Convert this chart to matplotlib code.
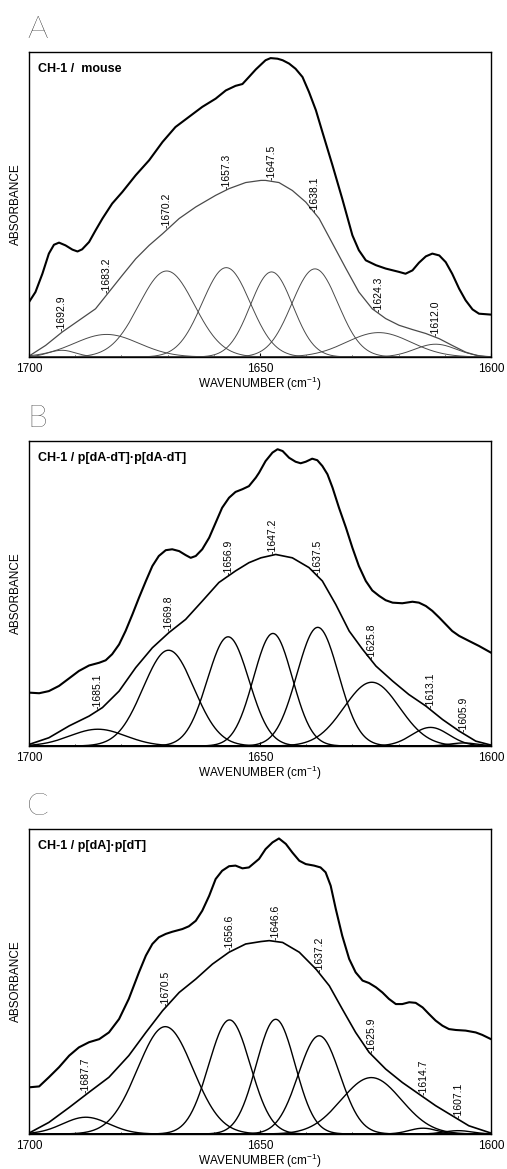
import numpy as np
import matplotlib
matplotlib.use("Agg")
import matplotlib.pyplot as plt

plt.rcParams["font.family"] = ["Liberation Sans", "DejaVu Sans"]
plt.rcParams["mathtext.fontset"] = "custom"
plt.rcParams["mathtext.rm"] = "Liberation Sans"

# ---- panel A : CH-1 / mouse ----
A_spec_wn = [1700, 1698.6, 1697.1, 1695.7, 1694.6, 1693.5, 1692.1, 1690.6, 1689.5, 1688.5,
             1687.0, 1685.6, 1684.1, 1682.0, 1679.8, 1676.9, 1674.0, 1671.1, 1668.3, 1665.4,
             1662.5, 1659.6, 1657.4, 1655.3, 1653.8, 1652.4, 1650.9, 1648.8, 1647.7, 1646.2,
             1645.1, 1643.7, 1642.3, 1640.8, 1639.4, 1637.9, 1636.5, 1634.3, 1632.2, 1630.0,
             1628.6, 1627.1, 1624.9, 1622.8, 1619.9, 1618.5, 1617.0, 1615.6, 1614.1, 1612.7,
             1611.2, 1609.8, 1608.4, 1606.9, 1605.5, 1604.0, 1602.6, 1600]
A_spec_abs = [0.180, 0.213, 0.273, 0.339, 0.368, 0.375, 0.366, 0.352, 0.346, 0.353,
              0.377, 0.415, 0.454, 0.503, 0.541, 0.596, 0.645, 0.705, 0.754, 0.787,
              0.820, 0.847, 0.874, 0.889, 0.895, 0.918, 0.943, 0.973, 0.980, 0.978,
              0.973, 0.962, 0.945, 0.918, 0.869, 0.809, 0.738, 0.628, 0.519, 0.399,
              0.350, 0.317, 0.301, 0.290, 0.279, 0.273, 0.284, 0.309, 0.330, 0.339,
              0.333, 0.311, 0.273, 0.224, 0.186, 0.156, 0.142, 0.139]
A_fit_wn = [1700, 1696.4, 1692.8, 1689.2, 1685.6, 1682.7, 1679.8, 1676.9, 1674.0, 1671.1,
            1667.5, 1663.9, 1659.6, 1656.7, 1653.1, 1649.8, 1648.8, 1645.9, 1643.0, 1640.1,
            1637.2, 1634.3, 1631.4, 1628.6, 1625.7, 1622.8, 1619.9, 1617.0, 1614.1, 1611.2,
            1608.4, 1605.5, 1602.6, 1600]
A_fit_abs = [0.003, 0.038, 0.082, 0.120, 0.158, 0.213, 0.268, 0.322, 0.366, 0.404,
             0.454, 0.492, 0.530, 0.552, 0.572, 0.579, 0.579, 0.572, 0.546, 0.508,
             0.454, 0.372, 0.290, 0.213, 0.158, 0.126, 0.104, 0.090, 0.077, 0.060,
             0.038, 0.016, 0.003, 0.0]
A_centres = [1692.9, 1683.2, 1670.2, 1657.3, 1647.5, 1638.1, 1624.3, 1612.0]
A_heights = [0.022, 0.074, 0.282, 0.293, 0.279, 0.289, 0.080, 0.042]
A_widths = [3.0, 7.0, 6.0, 5.2, 4.6, 5.0, 7.0, 4.5]

# ---- panel B : CH-1 / p[dA-dT].p[dA-dT] ----
B_spec_wn = [1700, 1697.8, 1695.7, 1693.5, 1691.3, 1689.2, 1687.0, 1684.8, 1683.4, 1682.0,
             1680.5, 1679.1, 1677.6, 1676.2, 1674.7, 1673.3, 1671.9, 1670.4, 1669.0, 1667.5,
             1666.1, 1665.0, 1663.9, 1662.5, 1661.0, 1659.6, 1658.2, 1656.7, 1655.3, 1653.8,
             1652.4, 1650.9, 1650.2, 1648.8, 1647.3, 1646.2, 1645.1, 1643.7, 1642.3, 1641.2,
             1640.1, 1638.7, 1637.6, 1636.5, 1635.4, 1634.3, 1632.9, 1631.4, 1630.0, 1628.6,
             1627.1, 1625.7, 1624.2, 1622.8, 1621.3, 1619.2, 1617.0, 1615.6, 1614.1, 1612.7,
             1611.2, 1609.8, 1608.4, 1606.9, 1604.7, 1602.6, 1600]
B_spec_abs = [0.175, 0.173, 0.180, 0.197, 0.222, 0.246, 0.264, 0.273, 0.281, 0.301,
              0.333, 0.377, 0.432, 0.486, 0.541, 0.590, 0.623, 0.642, 0.645, 0.639,
              0.626, 0.617, 0.623, 0.645, 0.683, 0.732, 0.781, 0.814, 0.833, 0.842,
              0.852, 0.880, 0.896, 0.934, 0.962, 0.973, 0.967, 0.945, 0.932, 0.927,
              0.932, 0.942, 0.937, 0.918, 0.891, 0.847, 0.781, 0.716, 0.650, 0.590,
              0.541, 0.510, 0.492, 0.478, 0.470, 0.468, 0.473, 0.470, 0.459, 0.443,
              0.421, 0.399, 0.377, 0.361, 0.344, 0.328, 0.306]
B_fit_wn = [1700, 1695.7, 1691.3, 1687.0, 1684.1, 1680.5, 1676.9, 1673.3, 1669.7, 1666.1,
            1662.5, 1658.9, 1655.3, 1652.4, 1649.8, 1646.6, 1643.0, 1639.4, 1636.5, 1633.6,
            1630.7, 1627.8, 1624.9, 1621.3, 1617.8, 1614.1, 1610.5, 1606.9, 1603.3, 1600]
B_fit_abs = [0.005, 0.027, 0.066, 0.098, 0.126, 0.180, 0.257, 0.322, 0.372, 0.415,
             0.475, 0.536, 0.574, 0.601, 0.617, 0.628, 0.617, 0.585, 0.541, 0.464,
             0.377, 0.317, 0.262, 0.213, 0.169, 0.131, 0.087, 0.049, 0.016, 0.003]
B_centres = [1685.1, 1669.8, 1656.9, 1647.2, 1637.5, 1625.8, 1613.1, 1605.9]
B_heights = [0.055, 0.314, 0.358, 0.369, 0.389, 0.209, 0.061, 0.010]
B_widths = [6.0, 5.5, 4.5, 4.2, 4.5, 6.0, 4.0, 3.0]

# ---- panel C : CH-1 / p[dA].p[dT] ----
C_spec_wn = [1700, 1697.8, 1695.7, 1693.5, 1691.3, 1689.2, 1687.0, 1684.8, 1682.7, 1680.5,
             1678.4, 1676.2, 1674.7, 1673.3, 1671.9, 1670.4, 1669.0, 1666.8, 1665.4, 1663.9,
             1662.5, 1661.0, 1659.6, 1658.2, 1656.7, 1655.3, 1653.8, 1652.4, 1650.9, 1650.2,
             1648.8, 1647.3, 1645.9, 1644.4, 1643.0, 1641.5, 1640.1, 1638.3, 1636.9, 1635.8,
             1634.7, 1633.6, 1632.2, 1630.7, 1629.3, 1627.8, 1626.4, 1624.9, 1623.5, 1622.1,
             1620.6, 1619.2, 1617.7, 1616.3, 1614.8, 1613.4, 1612.0, 1610.5, 1609.1, 1607.6,
             1605.5, 1603.3, 1601.9, 1600]
C_spec_abs = [0.153, 0.156, 0.186, 0.219, 0.257, 0.284, 0.301, 0.311, 0.333, 0.377,
              0.443, 0.530, 0.585, 0.623, 0.645, 0.656, 0.663, 0.672, 0.681, 0.699,
              0.732, 0.781, 0.836, 0.863, 0.878, 0.880, 0.871, 0.874, 0.893, 0.902,
              0.934, 0.956, 0.969, 0.951, 0.923, 0.896, 0.885, 0.880, 0.874, 0.858,
              0.814, 0.738, 0.650, 0.574, 0.530, 0.503, 0.495, 0.481, 0.464, 0.443,
              0.426, 0.426, 0.432, 0.430, 0.415, 0.393, 0.372, 0.355, 0.344, 0.341,
              0.339, 0.333, 0.325, 0.311]
C_fit_wn = [1700, 1695.7, 1691.3, 1687.0, 1682.7, 1678.4, 1674.7, 1671.1, 1667.5, 1663.9,
            1660.3, 1656.7, 1653.1, 1649.8, 1648.0, 1645.1, 1641.5, 1637.9, 1635.0, 1632.2,
            1629.3, 1626.4, 1622.8, 1619.2, 1615.6, 1612.0, 1608.4, 1604.8, 1600]
C_fit_abs = [0.003, 0.038, 0.087, 0.137, 0.186, 0.257, 0.333, 0.404, 0.464, 0.508,
             0.557, 0.596, 0.623, 0.631, 0.634, 0.628, 0.596, 0.541, 0.486, 0.410,
             0.333, 0.268, 0.213, 0.169, 0.131, 0.093, 0.060, 0.027, 0.003]
C_centres = [1687.7, 1670.5, 1656.6, 1646.6, 1637.2, 1625.9, 1614.7, 1607.1]
C_heights = [0.055, 0.352, 0.374, 0.376, 0.322, 0.185, 0.019, 0.011]
C_widths = [5.0, 6.0, 4.5, 4.2, 4.5, 6.5, 3.0, 3.0]

panels = [
    ("A", "CH-1 /  mouse", A_spec_wn, A_spec_abs, A_fit_wn, A_fit_abs,
     A_centres, A_heights, A_widths, "#4a4a4a", 0.7),
    ("B", "CH-1 / p[dA-dT]\u00b7p[dA-dT]", B_spec_wn, B_spec_abs, B_fit_wn, B_fit_abs,
     B_centres, B_heights, B_widths, "black", 1.0),
    ("C", "CH-1 / p[dA]\u00b7p[dT]", C_spec_wn, C_spec_abs, C_fit_wn, C_fit_abs,
     C_centres, C_heights, C_widths, "black", 1.0),
]

W, H = 507, 1169
fig = plt.figure(figsize=(W / 100, H / 100), dpi=100)
ax_tops = [52, 441, 829]
ax_h = 305
wn = np.linspace(1600, 1700, 600)

for (letter, title, s_wn, s_ab, f_wn, f_ab, cen, hgt, wid, ccol, clw), top in zip(panels, ax_tops):
    ax = fig.add_axes([29 / W, 1 - (top + ax_h) / H, 462 / W, ax_h / H])
    # fitted component bands
    for c, h, w in zip(cen, hgt, wid):
        ax.plot(wn, h * np.exp(-((wn - c) ** 2) / (2 * w ** 2)), color=ccol, lw=clw)
    # sum of components and measured spectrum
    ax.plot(f_wn, f_ab, color=ccol, lw=clw + 0.2, solid_joinstyle="round")
    ax.plot(s_wn, s_ab, color="black", lw=1.5, solid_joinstyle="round")
    # band labels
    fw = np.array(f_wn)[::-1]
    fa = np.array(f_ab)[::-1]
    for c in cen:
        yy = np.interp(c, fw, fa)
        ax.text(c, yy + 0.005, f"-{c:.1f}", rotation=90, ha="center", va="bottom",
                fontsize=7.5)
    ax.set_xlim(1700, 1600)
    ax.set_ylim(0, 1)
    ax.set_xticks([1700, 1650, 1600])
    ax.set_xticks(np.arange(1600, 1701, 10), minor=True)
    ax.set_yticks([])
    ax.tick_params(axis="x", which="major", direction="in", length=3, labelsize=8.5, pad=4)
    ax.tick_params(axis="x", which="minor", direction="in", length=1.5)
    ax.set_xlabel(r"WAVENUMBER (cm$^{-1}$)", fontsize=8.5, labelpad=0)
    ax.set_ylabel("ABSORBANCE", fontsize=8.5, labelpad=5)
    for sp in ax.spines.values():
        sp.set_linewidth(1.0)
    ax.text(0.019, 0.944, title, transform=ax.transAxes, fontsize=9, fontweight="bold",
            va="center", ha="left")
    fig.text(27 / W, 1 - (top - 14) / H, letter, fontsize=23,
             family=["Lato", "DejaVu Sans"], fontweight="light", va="baseline", ha="left")

fig.savefig("out.png", dpi=100)
